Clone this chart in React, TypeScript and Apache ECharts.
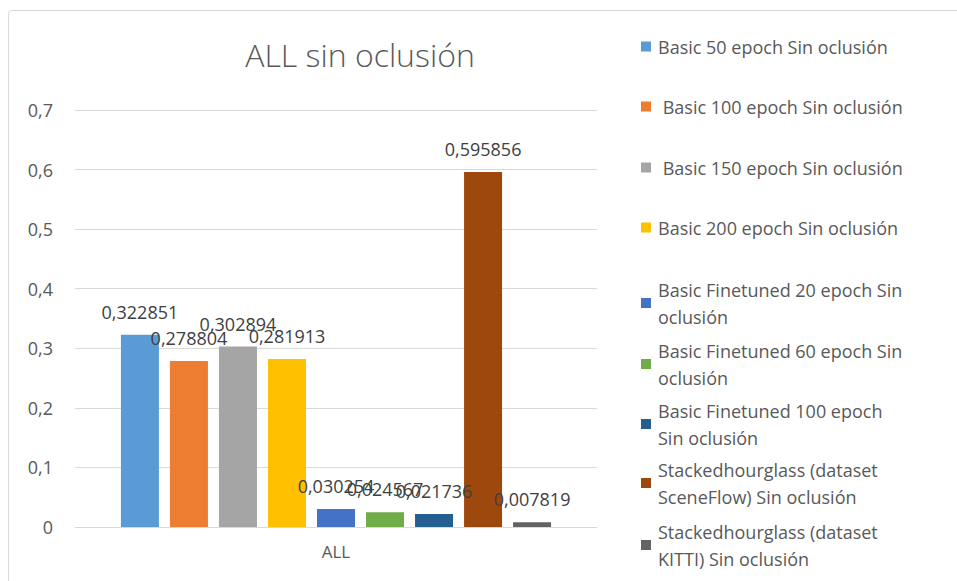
import React, { useEffect, useRef } from "react";
import * as echarts from "echarts";

const categories = ["ALL"];
const seriesNames = [
  "Basic 50 epoch Sin oclusión",
  "Basic 100 epoch Sin oclusión",
  "Basic 150 epoch Sin oclusión",
  "Basic 200 epoch Sin oclusión",
  "Basic Finetuned 20 epoch Sin oclusión",
  "Basic Finetuned 60 epoch Sin oclusión",
  "Basic Finetuned 100 epoch Sin oclusión",
  "Stackedhourglass (dataset SceneFlow) Sin oclusión",
  "Stackedhourglass (dataset KITTI) Sin oclusión",
];
const legendLabels = [
  "Basic 50 epoch Sin oclusión",
  " Basic 100 epoch Sin oclusión",
  " Basic 150 epoch Sin oclusión",
  "Basic 200 epoch Sin oclusión",
  "Basic Finetuned 20 epoch Sin\noclusión",
  "Basic Finetuned 60 epoch Sin\noclusión",
  "Basic Finetuned 100 epoch\nSin oclusión",
  "Stackedhourglass (dataset\nSceneFlow) Sin oclusión",
  "Stackedhourglass (dataset\nKITTI) Sin oclusión",
];
const values = [0.322851, 0.278804, 0.302894, 0.281913, 0.030254, 0.024567, 0.021736, 0.595856, 0.007819];
const colors = ["#5B9BD5", "#ED7D31", "#A5A5A5", "#FFC000", "#4472C4", "#70AD47", "#255E91", "#9E480E", "#636363"];
const legendTops = [28, 88, 149, 209, 271, 332, 392, 451, 513];
const yTicks = { min: 0, max: 0.7, interval: 0.1 };

const FONT = "'Open Sans', Lato, sans-serif";

export default function App() {
  const ref = useRef<HTMLDivElement>(null);

  useEffect(() => {
    if (!ref.current) return;
    const chart = echarts.init(ref.current, null, { renderer: "svg" });
    const comma = (v: number, d?: number) =>
      (d === undefined ? String(v) : v.toFixed(d)).replace(".", ",");

    chart.setOption({
      animation: false,
      backgroundColor: "#ffffff",
      title: {
        text: "ALL sin oclusión",
        left: 355,
        top: 33,
        textAlign: "center",
        textStyle: { fontFamily: FONT, fontSize: 32, fontWeight: 300, color: "#595959" },
      },
      graphic: [
        {
          type: "rect",
          shape: { x: 8.5, y: 10.5, width: 980, height: 600, r: 3 },
          style: { fill: "none", stroke: "#d9d9d9", lineWidth: 1 },
          silent: true,
        },
      ],
      legend: seriesNames.map((name, i) => ({
        data: [name],
        left: 636,
        top: legendTops[i],
        orient: "vertical",
        icon: "rect",
        itemWidth: 10,
        itemHeight: 10,
        itemGap: 0,
        formatter: () => legendLabels[i],
        textStyle: { fontFamily: FONT, fontSize: 18, color: "#595959", lineHeight: 27, padding: [0, 0, 0, 2] },
        selectedMode: false,
      })),
      grid: { left: 75, right: 360, top: 110, bottom: 54 },
      xAxis: {
        type: "category",
        data: categories,
        axisLine: { lineStyle: { color: "#d9d9d9" } },
        axisTick: { show: false },
        axisLabel: { fontFamily: FONT, fontSize: 17, color: "#595959", margin: 16 },
      },
      yAxis: {
        type: "value",
        min: yTicks.min,
        max: yTicks.max,
        interval: yTicks.interval,
        axisLine: { show: false },
        axisTick: { show: false },
        splitLine: { lineStyle: { color: "#d9d9d9" } },
        axisLabel: {
          fontFamily: FONT,
          fontSize: 18,
          color: "#595959",
          margin: 22,
          formatter: (v: number) => (v === 0 ? "0" : comma(Number(v.toFixed(1)))),
        },
      },
      series: seriesNames.map((name, i) => ({
        name,
        type: "bar",
        data: [values[i]],
        barWidth: 38,
        barGap: "29%",
        itemStyle: { color: colors[i] },
        label: {
          show: true,
          position: "top",
          distance: 14,
          fontFamily: FONT,
          fontSize: 18,
          color: "#404040",
          formatter: (p: any) => comma(p.value, 6),
        },
      })),
    });
    return () => chart.dispose();
  }, []);

  return (
    <div
      ref={ref}
      style={{ position: "fixed", left: 0, top: 0, width: 957, height: 581 }}
    />
  );
}
